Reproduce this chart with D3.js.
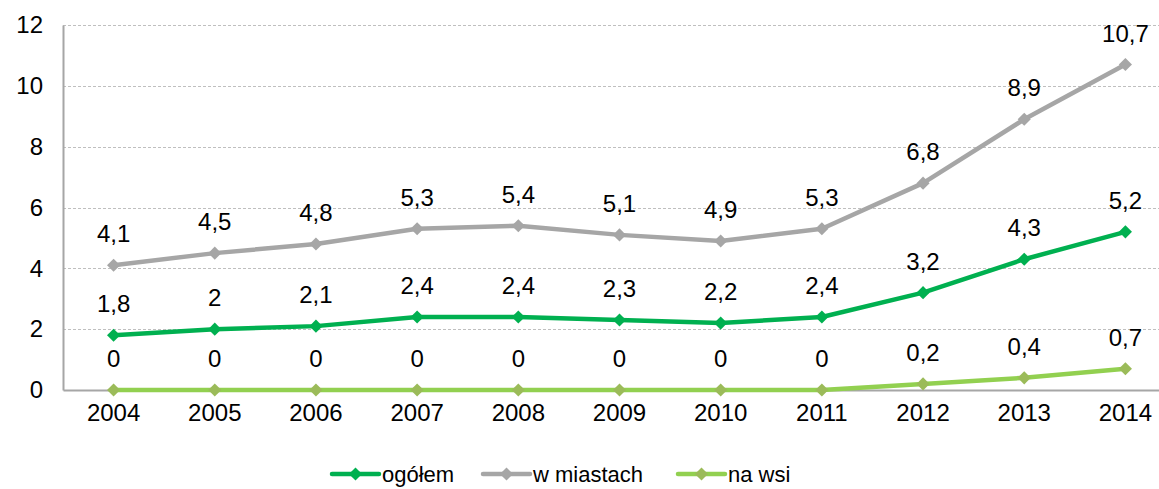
<!DOCTYPE html>
<html>
<head>
<meta charset="utf-8">
<script src="https://cdn.jsdelivr.net/npm/d3@7"></script>
<style>
  body { margin: 0; background: #fff; }
  svg { display: block; font-family: "Liberation Sans", Arial, sans-serif; }
</style>
</head>
<body>
<svg width="1159" height="489"></svg>
<script>
/* Chart data */
var years = ['2004', '2005', '2006', '2007', '2008', '2009', '2010', '2011', '2012', '2013', '2014'];
var ogolem = [1.8, 2, 2.1, 2.4, 2.4, 2.3, 2.2, 2.4, 3.2, 4.3, 5.2];
var wMiastach = [4.1, 4.5, 4.8, 5.3, 5.4, 5.1, 4.9, 5.3, 6.8, 8.9, 10.7];
var naWsi = [0, 0, 0, 0, 0, 0, 0, 0, 0.2, 0.4, 0.7];
var yTicks = [0, 2, 4, 6, 8, 10, 12];

var series = [
  { name: 'ogółem', values: ogolem, line: '#00b050', marker: '#00b050' },
  { name: 'w miastach', values: wMiastach, line: '#a6a6a6', marker: '#a6a6a6' },
  { name: 'na wsi', values: naWsi, line: '#92d050', marker: '#9bbb59' }
];

var svg = d3.select('svg');
var plotLeft = 63, plotRight = 1176, plotTop = 25, plotBottom = 390;

var x = d3.scaleBand().domain(years).range([plotLeft, plotRight]);
var y = d3.scaleLinear().domain([0, 12]).range([plotBottom, plotTop]);

var fmt = function(v) { return String(v).replace('.', ','); };
var cx = function(i) { return x(years[i]) + x.bandwidth() / 2; };

// Gridlines
svg.append('g').selectAll('line')
  .data(yTicks.filter(function(t) { return t > 0; }))
  .enter().append('line')
  .attr('x1', plotLeft).attr('x2', 1159)
  .attr('y1', function(d) { return Math.round(y(d)) + 0.5; })
  .attr('y2', function(d) { return Math.round(y(d)) + 0.5; })
  .attr('stroke', '#bfbfbf')
  .attr('stroke-width', 1)
  .attr('stroke-dasharray', '3,2');

// Y axis
var yAxis = svg.append('g')
  .attr('transform', 'translate(' + plotLeft + ',0)')
  .call(d3.axisLeft(y).tickValues(yTicks).tickSize(0).tickPadding(20).tickFormat(fmt));
yAxis.select('.domain').attr('stroke', '#a6a6a6').attr('stroke-width', 2);
yAxis.selectAll('text').attr('font-size', 24).attr('fill', '#000').attr('font-family', null);

// X axis
var xAxis = svg.append('g')
  .attr('transform', 'translate(0,' + plotBottom + ')')
  .call(d3.axisBottom(x).tickSize(0).tickPadding(14));
xAxis.select('.domain').attr('stroke', '#a6a6a6').attr('stroke-width', 2);
xAxis.selectAll('text').attr('font-size', 24).attr('fill', '#000').attr('font-family', null);

var line = d3.line()
  .x(function(d, i) { return cx(i); })
  .y(function(d) { return y(d); });

var diamond = d3.symbol().type(d3.symbolDiamond2).size(110);

series.forEach(function(s) {
  var g = svg.append('g');
  g.append('path')
    .datum(s.values)
    .attr('d', line)
    .attr('fill', 'none')
    .attr('stroke', s.line)
    .attr('stroke-width', 4.5)
    .attr('stroke-linejoin', 'round');
  g.selectAll('path.m')
    .data(s.values)
    .enter().append('path')
    .attr('class', 'm')
    .attr('d', diamond)
    .attr('fill', s.marker)
    .attr('transform', function(d, i) {
      return 'translate(' + cx(i) + ',' + y(d) + ')';
    });
  g.selectAll('text')
    .data(s.values)
    .enter().append('text')
    .attr('x', function(d, i) { return cx(i); })
    .attr('y', function(d) { return y(d) - 23; })
    .attr('text-anchor', 'middle')
    .attr('font-size', 24)
    .attr('fill', '#000')
    .text(function(d) { return fmt(d); });
});

// Legend
var legendX = [332, 483, 678];
var legend = svg.append('g');
series.forEach(function(s, i) {
  var lg = legend.append('g').attr('transform', 'translate(' + legendX[i] + ',474)');
  lg.append('line')
    .attr('x1', 0).attr('x2', 47)
    .attr('stroke', s.line).attr('stroke-width', 4.5).attr('stroke-linecap', 'round');
  lg.append('path').attr('d', diamond).attr('fill', s.marker)
    .attr('transform', 'translate(23.5,0)');
  lg.append('text')
    .attr('x', 50).attr('y', 8)
    .attr('font-size', 22).attr('fill', '#000')
    .text(s.name);
});
</script>
</body>
</html>
